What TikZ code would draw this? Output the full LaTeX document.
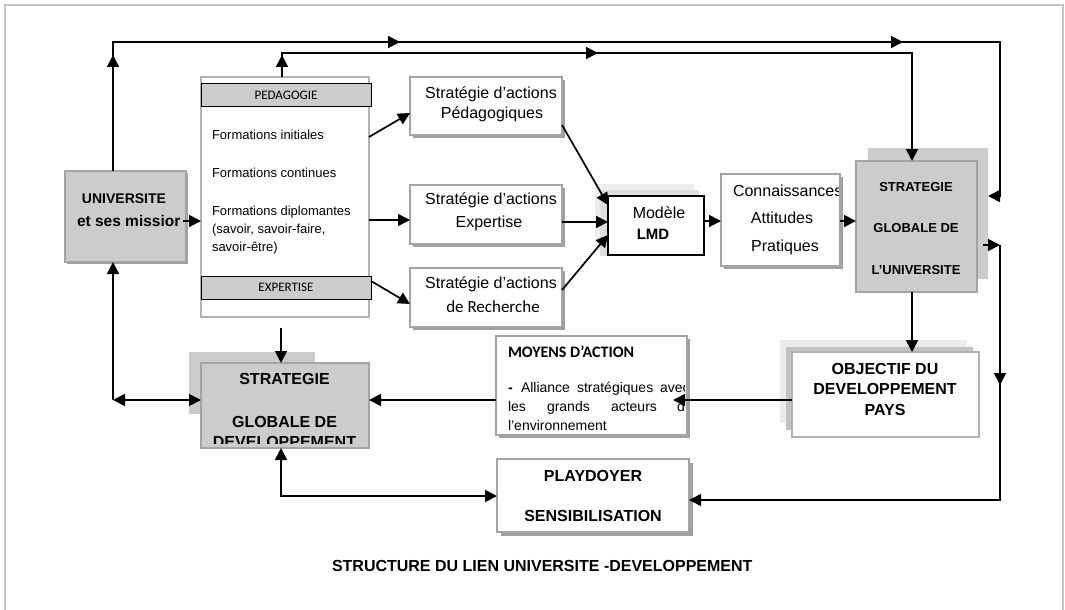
\documentclass[tikz,border=0pt]{standalone}
\usepackage{fontspec}
\setmainfont{Liberation Sans}
\newfontfamily\calfont{Carlito}
\usetikzlibrary{arrows.meta,decorations.markings}
\newcommand\fsz[1]{\fontsize{#1}{#1}\selectfont}
\definecolor{boxgray}{HTML}{CCCCCC}
\definecolor{edgegray}{HTML}{A4A4A4}
\definecolor{shadowgray}{HTML}{A0A0A0}
\definecolor{framegray}{HTML}{C4C4C4}
\begin{document}
\begin{tikzpicture}[x=1pt,y=-1pt,
  >={Triangle[length=12pt,width=12pt]},
  link/.style={line width=1.7pt},
  arr/.style={line width=1.7pt,->},
  tipat/.style={postaction={decorate,decoration={markings,mark=at position #1 with {\arrow{>}}}}},
  wbox/.style={draw=edgegray,line width=1.7pt,fill=white,inner sep=0pt,outer sep=0pt},
  gbox/.style={draw=edgegray,line width=1.7pt,fill=boxgray,inner sep=0pt,outer sep=0pt},
  bar/.style={draw=black,line width=1pt,fill=boxgray,inner sep=0pt,outer sep=0pt},
  txt/.style={inner sep=0pt,outer sep=0pt,anchor=base},
  txtw/.style={inner sep=0pt,outer sep=0pt,anchor=base west},
]
\useasboundingbox (0,0) rectangle (1065,610);
% frame
\draw[framegray,line width=1.5pt] (5,620) -- (5,5) -- (1063,5) -- (1063,620);

% ---------- shadows ----------
\fill[shadowgray] (67,173) rectangle (188,264);                 % univ
\fill[shadowgray] (413,80) rectangle (565,138);                 % s1
\fill[shadowgray] (413,188) rectangle (565,247);                % s2
\fill[shadowgray] (413,271) rectangle (565,330);                % s3
\fill[black!7] (595,184) rectangle (694,250);                   % lmd
\fill[black!13] (600,190) rectangle (699,256);
\fill[shadowgray] (724,177) rectangle (843,269);                % conn
\fill[boxgray] (868,148) rectangle (988,279);                   % sgu
\fill[boxgray] (189,352) rectangle (315,414);                   % sdev
\fill[shadowgray] (499,339) rectangle (690,438);                % moy
\fill[black!8] (780,340) rectangle (967,423);                   % obj
\fill[black!24] (786,347) rectangle (973,430);
\fill[shadowgray] (501,463) rectangle (693,536);                % play

% ---------- boxes ----------
\node[gbox,minimum width=121pt,minimum height=91pt] (univ) at (125.5,216.5) {};
\node[wbox,draw=black!30,line width=1.5pt,minimum width=168pt,minimum height=240pt] (form) at (285,197) {};
\node[bar,minimum width=170pt,minimum height=23pt] (peda) at (286,94.5) {};
\node[bar,minimum width=170pt,minimum height=23pt] (expe) at (286,287.5) {};
\node[wbox,minimum width=152pt,minimum height=58pt] (s1) at (486,106) {};
\node[wbox,minimum width=152pt,minimum height=59pt] (s2) at (486,214.5) {};
\node[wbox,minimum width=152pt,minimum height=59pt] (s3) at (486,297.5) {};
\node[wbox,draw=black,minimum width=96pt,minimum height=59pt] (lmd) at (656,225.5) {};
\node[wbox,minimum width=119pt,minimum height=92pt] (conn) at (780.5,220) {};
\node[gbox,minimum width=121pt,minimum height=131pt] (sgu) at (916.5,226.5) {};
\node[gbox,minimum width=168pt,minimum height=85pt] (sdev) at (285,405.5) {};
\node[wbox,minimum width=191pt,minimum height=99pt] (moy) at (591.5,385.5) {};
\node[wbox,draw=black!30,minimum width=187pt,minimum height=85pt] (obj) at (885.5,394.5) {};
\node[wbox,minimum width=192pt,minimum height=73pt] (play) at (593,495.5) {};

% ---------- texts ----------
\node[txt,font=\fsz{14}\bfseries] (tu1) at (124,203) {UNIVERSITE};
\node[txtw,font=\fsz{15.5}\bfseries] (tu2) at (77,226.6) {et ses missior};

\node[txt,font=\calfont\fsz{13}] (tpe) at (286,99.2) {PEDAGOGIE};
\node[txt,font=\calfont\fsz{13}] (tex) at (286,291.7) {EXPERTISE};
\node[txtw,font=\fsz{13}] (f1) at (212,139.7) {Formations initiales};
\node[txtw,font=\fsz{13}] (f2) at (212,177.7) {Formations continues};
\node[txtw,font=\fsz{13}] (f3) at (212,215.7) {Formations diplomantes};
\node[txtw,font=\fsz{13}] (f4) at (212,233.7) {(savoir, savoir-faire,};
\node[txtw,font=\fsz{13}] (f5) at (212,251.7) {savoir-être)};

\node[txt,font=\fsz{16}] (a1) at (491,98.8) {Stratégie d’actions};
\node[txt,font=\fsz{16}] (a2) at (492,118.8) {Pédagogiques};
\node[txt,font=\fsz{16}] (b1) at (491,204.8) {Stratégie d’actions};
\node[txt,font=\fsz{16}] (b2) at (489,227.8) {Expertise};
\node[txt,font=\fsz{16}] (c1) at (491,288.8) {Stratégie d’actions};
\node[txt,font=\calfont\fsz{17}] (c2) at (493,312.5) {de Recherche};

\node[txt,font=\fsz{16}] (m1) at (659,218.8) {Modèle};
\node[txt,font=\fsz{15}\bfseries] (m2) at (653,239.4) {LMD};

\begin{scope}
\clip (721,174) rectangle (838,266);
\node[txtw,font=\fsz{16}] (k1) at (733,196.8) {Connaissances};
\end{scope}
\node[txt,font=\fsz{16}] (k2) at (782,223.8) {Attitudes};
\node[txt,font=\fsz{16}] (k3) at (785,251.8) {Pratiques};

\node[txt,font=\fsz{13}\bfseries] (g1) at (916,191.7) {STRATEGIE};
\node[txt,font=\fsz{13}\bfseries] (g2) at (916,232.7) {GLOBALE DE};
\node[txt,font=\fsz{13}\bfseries] (g3) at (916,274.7) {L’UNIVERSITE};

\node[txt,font=\fsz{16}\bfseries] (d1) at (284.5,384.8) {STRATEGIE};
\node[txt,font=\fsz{16}\bfseries] (d2) at (284.5,427.8) {GLOBALE DE};
\begin{scope}
\clip (202,364) rectangle (368,443);
\node[txt,font=\fsz{16}\bfseries] (d3) at (284.5,447.5) {DEVELOPPEMENT};
\end{scope}

\node[txtw,font=\calfont\fsz{16}\bfseries] (y0) at (508,357.2) {MOYENS D’ACTION};
\begin{scope}
\clip (497,337) rectangle (684,434);
\node[txtw,font=\fsz{14}\bfseries] (y1a) at (508,392) {-};
\node[txtw,font=\fsz{14}] (y1b) at (521,392) {Alliance};
\node[txtw,font=\fsz{14}] (y1c) at (577,392) {stratégiques};
\node[txtw,font=\fsz{14}] (y1d) at (660,392) {avec};
\node[txtw,font=\fsz{14}] (y2a) at (508,411) {les};
\node[txtw,font=\fsz{14}] (y2b) at (547,411) {grands};
\node[txtw,font=\fsz{14}] (y2c) at (611,411) {acteurs};
\node[txtw,font=\fsz{14}] (y2d) at (677,411) {de};
\node[txtw,font=\fsz{14}] (y3) at (508,430) {l’environnement};
\end{scope}

\node[txt,font=\fsz{16}\bfseries] (o1) at (885,374.8) {OBJECTIF DU};
\node[txt,font=\fsz{16}\bfseries] (o2) at (885,394.8) {DEVELOPPEMENT};
\node[txt,font=\fsz{16}\bfseries] (o3) at (885,415.8) {PAYS};

\node[txt,font=\fsz{16}\bfseries] (p1) at (593,481.8) {PLAYDOYER};
\node[txt,font=\fsz{16}\bfseries] (p2) at (593,521.8) {SENSIBILISATION};

\node[txtw,font=\fsz{16}\bfseries] (cap) at (332,571.8) {STRUCTURE DU LIEN UNIVERSITE -DEVELOPPEMENT};

% ---------- coordinates ----------
\coordinate (uTop) at (113,42);
\coordinate (rTop) at (1000,42);
\coordinate (rA) at (1000,196);
\coordinate (fTop) at (282,53);
\coordinate (gTop) at (912,53);
\coordinate (uCorner) at (113,400);
\coordinate (fDown) at (281,328);
\coordinate (dCorner) at (281,496);
\coordinate (rB) at (1000,245);
\coordinate (rC) at (1000,500);
\coordinate (e1) at (369,137);
\coordinate (e1t) at (410,113);
\coordinate (e2) at (369,220);
\coordinate (e3) at (371,281);
\coordinate (e3t) at (410,304);
\coordinate (l1) at (562,125);
\coordinate (l1t) at (608,205);
\coordinate (l2) at (562,222);
\coordinate (l3) at (562,290);
\coordinate (l3t) at (608,235);
\coordinate (uArr) at (183,221);
\coordinate (yMid) at (0,221);
\coordinate (oArr) at (673,400);

% ---------- connectors ----------
\draw[arr,tipat=116pt,tipat=416pt,tipat=919pt] (univ.north -| uTop) -- (uTop) -- (rTop) -- (rA) -- (rA -| 988,0);
\draw[arr,tipat=22pt,tipat=340pt] (form.north -| fTop) -- (fTop) -- (gTop) -- (sgu.north -| gTop);
\draw[arr] (uArr) -- (uArr -| form.west);
\draw[arr] (uCorner) -- (univ.south -| uCorner);
\draw[arr,<->] (uCorner) -- (sdev.west |- uCorner);
\draw[arr] (fDown) -- (sdev.north -| fDown);
\draw[arr] (e1) -- (e1t);
\draw[arr] (e2) -- (e2 -| s2.west);
\draw[arr] (e3) -- (e3t);
\draw[arr] (l1) -- (l1t);
\draw[arr] (l2) -- (l2 -| lmd.west);
\draw[arr] (l3) -- (l3t);
\draw[arr] (lmd.east |- yMid) -- (conn.west |- yMid);
\draw[arr] (conn.east |- yMid) -- (sgu.west |- yMid);
\draw[arr] (sgu.south -| gTop) -- (obj.north -| gTop);
\draw[arr] (obj.west |- oArr) -- (oArr);
\draw[arr] (moy.west |- oArr) -- (sdev.east |- oArr);
\draw[arr] (rB -| 983,0) -- (rB);
\draw[arr,tipat=140pt] (rB) -- (rC) -- (play.east |- rC);
\draw[arr,<->] (sdev.south -| dCorner) -- (dCorner) -- (play.west |- dCorner);
\end{tikzpicture}
\end{document}
